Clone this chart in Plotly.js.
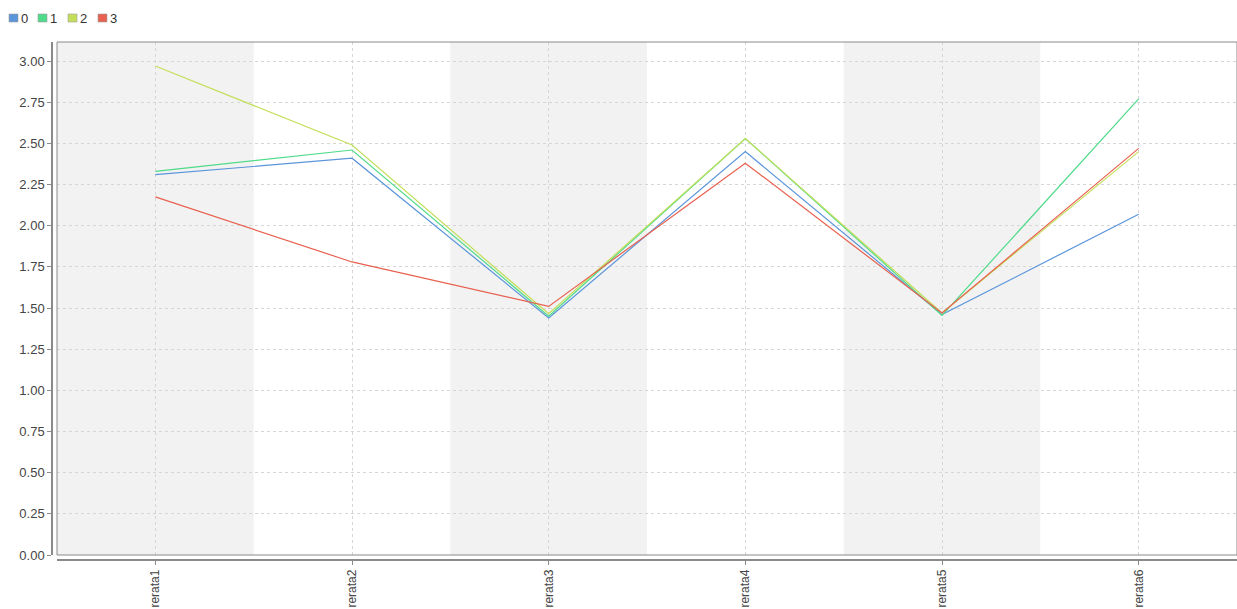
<!DOCTYPE html>
<html>
<head>
<meta charset="utf-8">
<script src="https://cdn.plot.ly/plotly-3.0.1.min.js"></script>
<style>html,body{margin:0;padding:0;background:#fff;}#chart{width:1237px;height:609px;}</style>
</head>
<body>
<div id="chart"></div>
<script>
var categories = ["rerata1", "rerata2", "rerata3", "rerata4", "rerata5", "rerata6"];
var seriesNames = ["0", "1", "2", "3"];
var series0 = [2.31, 2.41, 1.44, 2.45, 1.46, 2.07];
var series1 = [2.33, 2.46, 1.45, 2.53, 1.455, 2.77];
var series2 = [2.97, 2.49, 1.465, 2.53, 1.47, 2.45];
var series3 = [2.175, 1.78, 1.51, 2.38, 1.47, 2.47];
var yTicks = [0, 0.25, 0.5, 0.75, 1, 1.25, 1.5, 1.75, 2, 2.25, 2.5, 2.75, 3];
var yTickText = ["0.00","0.25","0.50","0.75","1.00","1.25","1.50","1.75","2.00","2.25","2.50","2.75","3.00"];

var colors = ["#5b95da", "#4fdb8a", "#c3df5a", "#e8604f"];
var allSeries = [series0, series1, series2, series3];

var W = 1237, H = 609;
var mL = 52, mR = 0, mT = 42, mB = 49;
var pw = W - mL - mR, ph = H - mT - mB;
var gap = 5;
var xd0 = gap / pw, yd0 = gap / ph;

var traces = [];
allSeries.forEach(function (vals, i) {
  traces.push({
    type: "scatter", mode: "lines", x: categories, y: vals, name: seriesNames[i],
    line: {color: colors[i], width: 1.2}, showlegend: false, hoverinfo: "x+y+name"
  });
});

var shapes = [];
for (var k = 0; k < categories.length; k += 2) {
  shapes.push({type: "rect", xref: "x", yref: "y domain", x0: k - 0.5, x1: k + 0.5, y0: 0, y1: 1,
    fillcolor: "#f2f2f2", line: {width: 0}, layer: "below"});
}
shapes.push({type: "rect", xref: "paper", yref: "paper", x0: xd0, x1: 1, y0: yd0, y1: 1,
  line: {color: "#8a8a8a", width: 1}, fillcolor: "rgba(0,0,0,0)", layer: "above"});

// custom legend: small squares + labels (pixel positions converted to paper coords)
var annotations = [];
var legendX = [9, 38, 68, 98];
var legendYc = 18;
function px2x(px) { return (px - mL) / pw; }
function py2y(py) { return (H - mB - py) / ph; }
seriesNames.forEach(function (nm, i) {
  var x0 = legendX[i];
  shapes.push({type: "rect", xref: "paper", yref: "paper",
    x0: px2x(x0), x1: px2x(x0 + 9), y0: py2y(legendYc + 4), y1: py2y(legendYc - 4),
    fillcolor: colors[i], line: {color: "#a0a0a0", width: 0.6}});
  annotations.push({xref: "paper", yref: "paper", x: px2x(x0 + 10), y: py2y(legendYc),
    xanchor: "left", yanchor: "middle", text: nm, showarrow: false,
    font: {size: 13, color: "#333"}});
});

var layout = {
  width: W, height: H,
  margin: {l: mL, r: mR, t: mT, b: mB, pad: 0},
  paper_bgcolor: "#ffffff", plot_bgcolor: "#ffffff",
  font: {family: "Liberation Sans, Arial, sans-serif", size: 13, color: "#444"},
  showlegend: false,
  xaxis: {
    type: "category", domain: [xd0, 1], anchor: "free", position: 0,
    range: [-0.5, categories.length - 0.5],
    showline: true, linecolor: "#8a8a8a", linewidth: 1.5,
    ticks: "outside", ticklen: 4, tickcolor: "#8a8a8a", tickangle: -90,
    showgrid: true, gridcolor: "#d6d6d6", griddash: "3px,3px", gridwidth: 1,
    zeroline: false, tickfont: {size: 12, color: "#444"}
  },
  yaxis: {
    domain: [yd0, 1], anchor: "free", position: 0,
    range: [0, 3.116],
    tickvals: yTicks, ticktext: yTickText,
    showline: true, linecolor: "#8a8a8a", linewidth: 1.5,
    ticks: "outside", ticklen: 4, tickcolor: "#8a8a8a",
    showgrid: true, gridcolor: "#d6d6d6", griddash: "3px,3px", gridwidth: 1,
    zeroline: false, tickfont: {size: 13, color: "#444"}
  },
  shapes: shapes,
  annotations: annotations
};

Plotly.newPlot("chart", traces, layout, {displayModeBar: false, responsive: false});
</script>
</body>
</html>
